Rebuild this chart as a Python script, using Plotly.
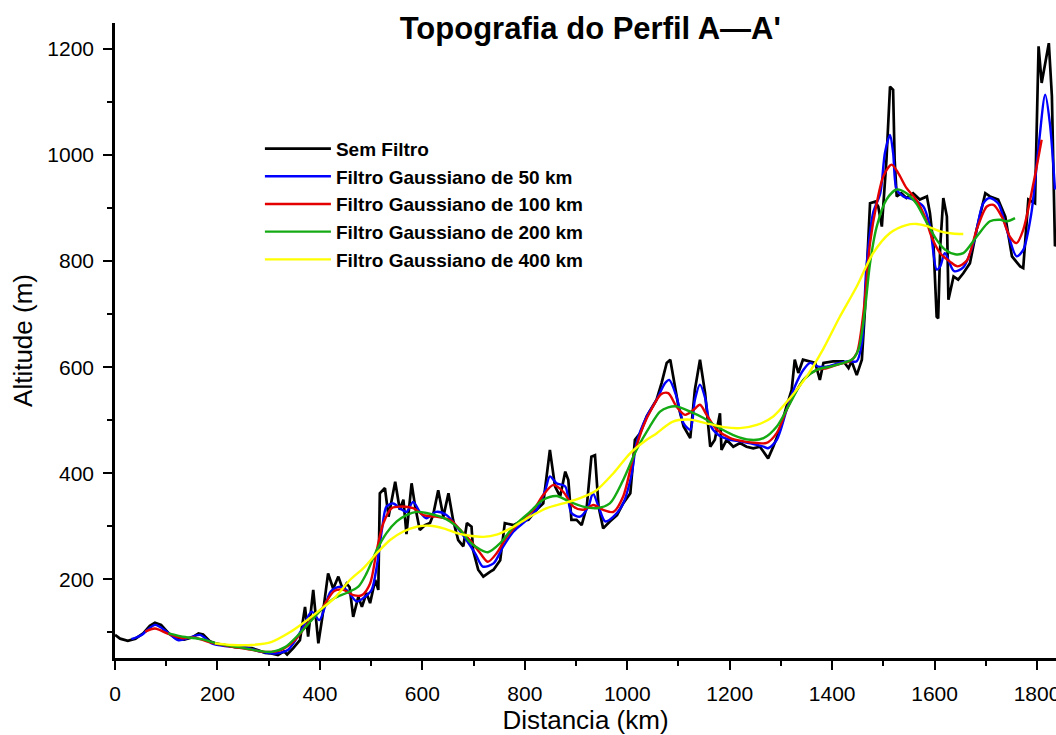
import plotly.graph_objects as go

# ---------------- data ----------------
dist_raw = [0, 10, 25, 40, 55, 68, 78, 90, 105, 120, 135, 150, 163, 172, 185, 200, 215, 234, 250, 267,
            280, 293, 305, 318, 330, 336, 348, 361, 371, 377, 387, 397, 405, 416, 426, 436, 445, 452, 458, 465,
            475, 482, 491, 498, 508, 514, 517, 527, 534, 547, 556, 563, 569, 579, 586, 595, 605, 615, 621, 631,
            641, 651, 660, 670, 680, 687, 696, 699, 709, 719, 732, 739, 752, 761, 778, 791, 807, 823, 836, 849,
            859, 869, 879, 885, 891, 901, 911, 921, 930, 937, 944, 953, 966, 980, 992, 1006, 1015, 1025, 1038, 1057,
            1067, 1077, 1084, 1090, 1100, 1110, 1123, 1132, 1142, 1152, 1162, 1171, 1181, 1184, 1194, 1207, 1220, 1233, 1246, 1259,
            1275, 1285, 1298, 1311, 1321, 1327, 1334, 1343, 1357, 1367, 1376, 1383, 1402, 1422, 1432, 1438, 1448, 1458, 1464, 1474,
            1484, 1490, 1497, 1506, 1513, 1519, 1522, 1526, 1535, 1545, 1558, 1571, 1585, 1591, 1598, 1604, 1607, 1611, 1617, 1624,
            1627, 1637, 1646, 1656, 1669, 1682, 1699, 1708, 1724, 1738, 1751, 1767, 1773, 1783, 1796, 1803, 1809, 1823, 1829, 1835, 1845]
alt_raw = [95, 88, 84, 88, 98, 112, 118, 114, 98, 88, 86, 90, 98, 96, 83, 78, 76, 72, 71, 70,
           66, 61, 60, 57, 64, 58, 70, 85, 148, 92, 180, 79, 130, 211, 182, 205, 180, 192, 185, 129,
           167, 148, 174, 155, 199, 180, 362, 372, 318, 384, 331, 350, 285, 381, 337, 293, 302, 306, 321, 368,
           318, 362, 312, 274, 262, 306, 299, 255, 218, 205, 214, 218, 236, 306, 302, 309, 312, 331, 343, 444,
           375, 356, 403, 387, 312, 312, 302, 337, 431, 434, 337, 296, 309, 321, 343, 362, 463, 475, 507, 538,
           570, 608, 614, 580, 526, 488, 466, 557, 614, 551, 450, 463, 513, 444, 463, 450, 457, 450, 447, 450,
           428, 450, 482, 526, 557, 614, 589, 614, 611, 608, 576, 608, 611, 611, 598, 611, 585, 614, 708, 909,
           912, 903, 865, 991, 1129, 1123, 991, 922, 928, 919, 928, 916, 922, 890, 828, 695, 692, 828, 919, 884,
           727, 771, 765, 777, 796, 859, 928, 922, 916, 884, 809, 790, 787, 916, 909, 1205, 1136, 1211, 1111, 828, 850]

dist_50 = [32, 52, 78, 101, 124, 143, 166, 189, 215, 254, 286, 312, 338, 364, 384, 399, 421, 439, 452, 472,
           488, 501, 511, 521, 530, 543, 556, 569, 582, 595, 608, 627, 647, 667, 686, 703, 718, 739, 758, 778,
           804, 823, 840, 849, 862, 879, 891, 908, 924, 933, 944, 957, 973, 992, 1009, 1018, 1038, 1057, 1074, 1082,
           1096, 1110, 1123, 1132, 1142, 1152, 1162, 1178, 1201, 1220, 1246, 1266, 1275, 1292, 1311, 1327, 1344, 1357, 1373, 1389,
           1415, 1435, 1448, 1458, 1467, 1480, 1494, 1503, 1513, 1519, 1526, 1539, 1558, 1578, 1591, 1604, 1611, 1620, 1638, 1656,
           1676, 1695, 1708, 1724, 1741, 1760, 1773, 1789, 1803, 1816, 1825, 1835]
alt_50 = [87, 95, 114, 101, 85, 89, 95, 79, 74, 72, 63, 60, 67, 104, 139, 123, 177, 186, 180, 158,
          167, 180, 224, 293, 337, 343, 334, 327, 346, 327, 315, 327, 321, 299, 274, 249, 224, 230, 262, 290,
          312, 331, 368, 394, 381, 375, 325, 318, 337, 362, 337, 309, 318, 343, 400, 457, 507, 538, 570, 576,
          545, 494, 482, 538, 567, 542, 491, 472, 463, 460, 455, 450, 447, 463, 519, 563, 595, 608, 601, 601,
          608, 611, 611, 645, 790, 891, 928, 1004, 1038, 1004, 935, 922, 916, 903, 865, 784, 790, 815, 781, 788,
          834, 909, 919, 909, 859, 809, 821, 891, 1016, 1114, 1060, 935]

dist_100 = [59, 78, 104, 130, 156, 182, 221, 260, 293, 325, 351, 377, 404, 428, 446, 465, 482, 498, 511, 524,
            540, 556, 582, 602, 627, 654, 674, 693, 713, 728, 745, 765, 791, 817, 836, 856, 875, 895, 914, 934,
            953, 973, 992, 1012, 1031, 1048, 1066, 1080, 1096, 1113, 1129, 1142, 1155, 1175, 1201, 1227, 1253, 1272, 1292, 1311,
            1331, 1350, 1370, 1389, 1415, 1435, 1448, 1461, 1474, 1487, 1500, 1516, 1529, 1545, 1564, 1581, 1594, 1611, 1630, 1645,
            1663, 1682, 1702, 1715, 1731, 1747, 1760, 1773, 1793, 1809]
alt_100 = [101, 107, 97, 89, 90, 82, 74, 68, 63, 67, 85, 117, 145, 178, 180, 170, 170, 192, 255, 306,
           334, 337, 334, 321, 318, 312, 293, 274, 249, 233, 249, 280, 309, 331, 359, 378, 365, 337, 331, 340,
           331, 327, 356, 431, 488, 522, 549, 551, 526, 510, 519, 529, 510, 482, 466, 460, 457, 457, 476, 519,
           557, 582, 595, 598, 606, 611, 626, 702, 834, 909, 960, 982, 966, 938, 916, 884, 846, 815, 799, 790,
           801, 859, 903, 906, 884, 846, 834, 859, 947, 1029]

dist_200 = [104, 137, 169, 202, 241, 280, 306, 332, 358, 384, 405, 428, 452, 475, 491, 511, 530, 550, 569, 589,
            608, 635, 654, 674, 693, 713, 728, 752, 778, 810, 836, 862, 888, 914, 940, 966, 992, 1018, 1044, 1064,
            1080, 1096, 1123, 1149, 1175, 1207, 1240, 1266, 1292, 1318, 1344, 1370, 1396, 1422, 1440, 1452, 1463, 1474, 1487, 1506,
            1526, 1545, 1564, 1585, 1604, 1620, 1640, 1656, 1682, 1708, 1728, 1741, 1757]
alt_200 = [98, 91, 87, 78, 72, 65, 63, 72, 95, 123, 145, 164, 174, 186, 211, 255, 287, 309, 321, 327,
           325, 318, 309, 293, 270, 256, 251, 268, 299, 327, 350, 357, 346, 337, 334, 343, 387, 444, 488, 516,
           524, 526, 516, 504, 488, 472, 463, 466, 488, 532, 576, 595, 601, 608, 615, 635, 700, 796, 865, 916,
           935, 928, 909, 872, 840, 822, 813, 815, 846, 875, 878, 875, 881]

dist_400 = [195, 228, 267, 306, 338, 371, 404, 430, 459, 485, 511, 537, 563, 589, 615, 641, 667, 693, 719, 745,
            778, 810, 843, 875, 908, 940, 973, 1006, 1038, 1057, 1088, 1123, 1155, 1188, 1220, 1253, 1285, 1318, 1350, 1383,
            1415, 1448, 1480, 1513, 1545, 1565, 1585, 1611, 1635, 1656]
alt_400 = [79, 76, 76, 82, 98, 120, 145, 166, 199, 221, 249, 274, 290, 299, 301, 296, 287, 282, 280, 284,
           299, 318, 334, 343, 353, 368, 400, 438, 463, 475, 497, 501, 494, 487, 485, 491, 507, 542, 582, 635,
           695, 752, 815, 853, 868, 870, 866, 856, 852, 851]

series_names = ["Sem Filtro", "Filtro Gaussiano de 50 km", "Filtro Gaussiano de 100 km",
                "Filtro Gaussiano de 200 km", "Filtro Gaussiano de 400 km"]

# ---------------- figure ----------------
FONT = "Liberation Sans, Arial, Helvetica, sans-serif"
fig = go.Figure()
fig.add_trace(go.Scatter(x=dist_raw, y=alt_raw, mode="lines", name=series_names[0],
                         line=dict(color="#000000", width=2.7)))
fig.add_trace(go.Scatter(x=dist_50, y=alt_50, mode="lines", name=series_names[1],
                         line=dict(color="#0000ff", width=2.4, shape="spline", smoothing=0.8)))
fig.add_trace(go.Scatter(x=dist_100, y=alt_100, mode="lines", name=series_names[2],
                         line=dict(color="#e40000", width=2.4, shape="spline", smoothing=0.8)))
fig.add_trace(go.Scatter(x=dist_200, y=alt_200, mode="lines", name=series_names[3],
                         line=dict(color="#14aa14", width=2.4, shape="spline", smoothing=0.8)))
fig.add_trace(go.Scatter(x=dist_400, y=alt_400, mode="lines", name=series_names[4],
                         line=dict(color="#ffff00", width=2.4, shape="spline", smoothing=0.8)))

fig.update_layout(
    width=1056, height=735,
    margin=dict(l=115, r=0, t=23, b=77, autoexpand=False),
    paper_bgcolor="white", plot_bgcolor="white",
    font=dict(family=FONT, color="black", size=21),
    title=dict(text="<b>Topografia do Perfil A—A'</b>", x=0.559, xanchor="center",
               y=0.962, yanchor="middle", font=dict(size=31, family=FONT, color="black")),
    showlegend=True,
    legend=dict(x=0.154, y=0.832, xanchor="left", yanchor="top", bgcolor="rgba(0,0,0,0)",
                font=dict(size=19, family=FONT, color="black", weight="bold"),
                itemwidth=66, tracegroupgap=0),
)
fig.update_xaxes(range=[0, 1837], showline=True, linecolor="black", linewidth=2.5,
                 showgrid=False, zeroline=False, ticks="outside", ticklen=9, tickwidth=1.5,
                 tickcolor="black", dtick=200, tick0=0, ticklabelstandoff=6,
                 ticklabeloverflow="allow", automargin=False,
                 minor=dict(dtick=100, ticks="outside", ticklen=5, tickwidth=1.5, tickcolor="black", showgrid=False),
                 title=dict(text="Distancia (km)", font=dict(size=26, family=FONT), standoff=2),
                 mirror=False)
fig.update_yaxes(range=[51.5, 1249], showline=True, linecolor="black", linewidth=2.5,
                 showgrid=False, zeroline=False, ticks="outside", ticklen=9, tickwidth=1.5,
                 tickcolor="black", dtick=200, tick0=0, ticklabelstandoff=5, automargin=False,
                 minor=dict(dtick=100, ticks="outside", ticklen=5, tickwidth=1.5, tickcolor="black", showgrid=False),
                 title=dict(text="Altitude (m)", font=dict(size=26, family=FONT), standoff=8),
                 mirror=False)

fig.write_html("out.html")
